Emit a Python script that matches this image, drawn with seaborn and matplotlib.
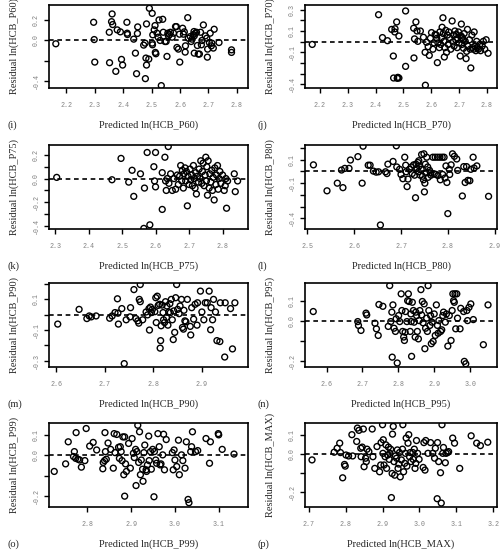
import numpy as np
import seaborn as sns
import matplotlib
matplotlib.use("Agg")
import matplotlib.pyplot as plt

# predicted values and residuals
pred_p60 = [2.163, 2.296, 2.298, 2.300, 2.352, 2.351, 2.361, 2.359, 2.363, 2.374, 2.379, 2.390, 2.394, 2.398,
            2.413, 2.414, 2.415, 2.437, 2.443, 2.447, 2.451, 2.450, 2.478, 2.482, 2.472, 2.477, 2.480, 2.482,
            2.490, 2.492, 2.502, 2.504, 2.502, 2.503, 2.509, 2.512, 2.513, 2.515, 2.519, 2.523, 2.526, 2.530,
            2.534, 2.539, 2.541, 2.547, 2.551, 2.554, 2.557, 2.559, 2.563, 2.566, 2.572, 2.577, 2.584, 2.587,
            2.589, 2.594, 2.598, 2.599, 2.609, 2.612, 2.615, 2.618, 2.619, 2.627, 2.629, 2.636, 2.639, 2.642,
            2.647, 2.649, 2.650, 2.654, 2.650, 2.658, 2.661, 2.664, 2.668, 2.672, 2.675, 2.677, 2.682, 2.689,
            2.694, 2.696, 2.697, 2.703, 2.706, 2.710, 2.712, 2.717, 2.720, 2.737, 2.781, 2.781]
res_p60 = [-0.035, 0.174, 0.006, -0.213, -0.219, 0.077, 0.255, 0.180, 0.152, -0.303, 0.100, 0.081, -0.187, -0.242,
           0.174, 0.068, 0.055, 0.010, -0.126, -0.326, 0.129, 0.065, -0.374, 0.158, -0.048, -0.029, -0.174, -0.242,
           -0.184, 0.310, 0.261, 0.052, -0.029, -0.045, 0.100, 0.142, -0.119, -0.132, 0.068, 0.029, 0.197, -0.003,
           -0.442, 0.203, 0.077, -0.013, -0.013, -0.158, 0.068, 0.042, 0.055, 0.077, 0.029, 0.068, 0.132, 0.132,
           -0.071, -0.087, 0.058, -0.213, 0.116, 0.058, 0.081, -0.116, -0.055, 0.219, 0.019, 0.035, -0.013, 0.010,
           0.055, 0.084, 0.042, 0.068, -0.126, 0.077, -0.052, -0.135, -0.135, 0.077, -0.045, -0.003, 0.148, 0.042,
           0.019, -0.165, -0.087, -0.023, 0.068, -0.055, -0.029, -0.077, 0.106, -0.023, -0.094, -0.119]

pred_p70 = [2.173, 2.411, 2.425, 2.443, 2.458, 2.470, 2.469, 2.476, 2.464, 2.484, 2.465, 2.478, 2.484, 2.480,
            2.508, 2.508, 2.537, 2.538, 2.540, 2.545, 2.549, 2.552, 2.561, 2.572, 2.578, 2.579, 2.583, 2.589,
            2.593, 2.597, 2.601, 2.606, 2.610, 2.614, 2.618, 2.622, 2.620, 2.624, 2.629, 2.631, 2.634, 2.637,
            2.639, 2.642, 2.643, 2.646, 2.647, 2.649, 2.652, 2.655, 2.658, 2.661, 2.663, 2.666, 2.670, 2.675,
            2.678, 2.680, 2.682, 2.685, 2.688, 2.690, 2.693, 2.695, 2.698, 2.700, 2.704, 2.706, 2.708, 2.710,
            2.712, 2.714, 2.716, 2.718, 2.722, 2.725, 2.727, 2.730, 2.731, 2.737, 2.740, 2.742, 2.746, 2.748,
            2.752, 2.754, 2.757, 2.760, 2.763, 2.766, 2.769, 2.774, 2.777, 2.783, 2.787, 2.792, 2.797, 2.804]
res_p70 = [-0.026, 0.253, 0.038, 0.009, 0.115, 0.121, 0.091, 0.185, -0.135, 0.053, -0.341, -0.344, -0.341, -0.335,
           0.288, -0.232, 0.126, -0.153, 0.026, 0.185, 0.100, 0.003, 0.100, 0.041, -0.100, -0.409, -0.006, -0.047,
           -0.129, 0.032, 0.085, -0.071, -0.012, 0.068, 0.062, -0.197, 0.032, -0.012, -0.056, 0.091, -0.026, 0.038,
           0.135, 0.224, 0.076, 0.003, -0.144, -0.056, 0.106, -0.100, 0.062, -0.026, 0.091, 0.038, -0.071, 0.194,
           -0.003, 0.062, -0.041, 0.100, 0.018, 0.068, -0.056, 0.032, 0.091, -0.012, -0.135, 0.056, 0.165, -0.026,
           0.038, 0.018, -0.062, 0.076, 0.003, -0.159, -0.091, 0.115, -0.041, 0.018, -0.071, -0.247, 0.062, -0.056,
           -0.071, 0.091, -0.041, -0.085, 0.003, -0.056, -0.071, -0.026, -0.085, -0.041, 0.003, -0.071, 0.018, -0.109]

pred_p75 = [2.305, 2.470, 2.497, 2.520, 2.530, 2.535, 2.555, 2.565, 2.567, 2.575, 2.583, 2.595, 2.597, 2.600,
            2.600, 2.620, 2.620, 2.628, 2.630, 2.632, 2.635, 2.638, 2.640, 2.645, 2.650, 2.655, 2.660, 2.665,
            2.668, 2.672, 2.675, 2.678, 2.680, 2.683, 2.685, 2.688, 2.690, 2.692, 2.695, 2.697, 2.700, 2.703,
            2.705, 2.708, 2.710, 2.713, 2.715, 2.718, 2.720, 2.722, 2.725, 2.728, 2.730, 2.733, 2.735, 2.738,
            2.740, 2.742, 2.745, 2.748, 2.750, 2.752, 2.753, 2.755, 2.757, 2.760, 2.762, 2.765, 2.768, 2.770,
            2.772, 2.775, 2.777, 2.780, 2.782, 2.785, 2.787, 2.790, 2.792, 2.795, 2.800, 2.805, 2.808, 2.810,
            2.812, 2.815, 2.835, 2.838, 2.845]
res_p75 = [0.010, -0.010, 0.170, -0.030, 0.070, -0.150, 0.040, -0.420, -0.080, 0.220, -0.390, 0.100, -0.020, 0.220,
           -0.070, 0.050, -0.260, 0.180, -0.020, -0.100, 0.000, 0.270, -0.040, 0.040, -0.100, 0.000, -0.090, 0.030,
           -0.050, 0.020, 0.110, -0.020, 0.070, -0.080, 0.040, 0.090, -0.020, 0.060, -0.230, 0.020, -0.050, 0.080,
           -0.010, 0.030, -0.060, 0.110, 0.000, -0.080, 0.050, -0.130, 0.020, -0.030, 0.080, 0.000, 0.150, -0.040,
           0.060, 0.130, -0.060, 0.030, 0.180, -0.020, 0.100, -0.140, 0.150, -0.080, 0.040, -0.030, 0.070, -0.100,
           0.010, -0.180, 0.090, -0.050, 0.030, 0.110, -0.090, 0.000, 0.060, -0.040, 0.030, -0.100, -0.060, 0.000,
           -0.250, -0.020, 0.040, -0.110, -0.020]

pred_p80 = [2.513, 2.542, 2.564, 2.573, 2.576, 2.580, 2.589, 2.592, 2.608, 2.617, 2.619, 2.630, 2.634, 2.641,
            2.647, 2.652, 2.656, 2.667, 2.670, 2.672, 2.683, 2.690, 2.691, 2.697, 2.700, 2.704, 2.708, 2.710,
            2.711, 2.713, 2.715, 2.718, 2.722, 2.724, 2.727, 2.729, 2.731, 2.732, 2.734, 2.736, 2.737, 2.738,
            2.739, 2.741, 2.743, 2.744, 2.746, 2.748, 2.749, 2.750, 2.751, 2.752, 2.754, 2.755, 2.757, 2.758,
            2.761, 2.763, 2.764, 2.768, 2.771, 2.773, 2.775, 2.778, 2.779, 2.783, 2.784, 2.788, 2.789, 2.792,
            2.794, 2.796, 2.798, 2.800, 2.803, 2.804, 2.807, 2.810, 2.814, 2.819, 2.821, 2.831, 2.834, 2.837,
            2.840, 2.843, 2.847, 2.849, 2.854, 2.856, 2.862, 2.887]
res_p80 = [0.056, -0.165, -0.100, 0.012, -0.138, 0.026, 0.026, 0.097, 0.126, -0.100, 0.215, 0.053, 0.053, 0.003,
           -0.006, -0.003, -0.456, -0.003, -0.018, 0.062, 0.085, 0.218, 0.038, 0.018, -0.026, -0.062, 0.121, 0.053,
           -0.003, -0.129, -0.065, 0.018, 0.038, -0.018, 0.056, -0.032, -0.224, 0.062, 0.026, 0.076, -0.003, 0.091,
           0.047, -0.032, 0.018, 0.144, -0.041, -0.071, 0.150, -0.174, -0.100, 0.062, -0.012, 0.121, 0.038, -0.050,
           0.009, -0.012, -0.032, 0.121, -0.021, 0.121, -0.026, 0.121, -0.035, 0.121, -0.071, 0.121, -0.026, 0.121,
           -0.056, 0.047, -0.094, -0.359, 0.018, -0.026, 0.056, 0.150, 0.129, 0.106, 0.009, -0.209, 0.041, -0.094,
           0.041, -0.076, -0.079, 0.018, 0.121, 0.029, 0.047, -0.212]

pred_p90 = [2.603, 2.647, 2.663, 2.668, 2.672, 2.682, 2.710, 2.715, 2.721, 2.726, 2.727, 2.728, 2.735, 2.740,
            2.744, 2.752, 2.753, 2.760, 2.764, 2.768, 2.770, 2.771, 2.773, 2.773, 2.778, 2.785, 2.788, 2.791,
            2.792, 2.794, 2.796, 2.798, 2.803, 2.805, 2.806, 2.808, 2.810, 2.813, 2.814, 2.815, 2.816, 2.818,
            2.820, 2.821, 2.823, 2.825, 2.827, 2.828, 2.830, 2.832, 2.834, 2.835, 2.837, 2.839, 2.841, 2.842,
            2.844, 2.846, 2.848, 2.850, 2.853, 2.855, 2.858, 2.860, 2.862, 2.863, 2.865, 2.867, 2.870, 2.876,
            2.877, 2.879, 2.883, 2.886, 2.890, 2.891, 2.897, 2.900, 2.904, 2.907, 2.911, 2.915, 2.918, 2.919,
            2.922, 2.924, 2.928, 2.931, 2.937, 2.938, 2.948, 2.947, 2.959, 2.963, 2.968]
res_p90 = [-0.062, 0.034, -0.026, -0.009, -0.015, -0.009, -0.024, -0.009, 0.013, 0.103, 0.009, -0.062, 0.039, -0.320,
           -0.034, -0.015, 0.045, 0.163, -0.026, -0.041, -0.056, 0.099, 0.196, 0.084, -0.034, 0.017, -0.002, 0.039,
           -0.101, 0.049, 0.013, 0.034, 0.019, 0.110, -0.052, 0.120, 0.060, 0.067, -0.219, -0.170, -0.073, 0.062,
           0.013, -0.034, -0.052, 0.084, -0.019, 0.056, -0.069, 0.017, 0.071, 0.013, 0.099, -0.034, -0.163, 0.024,
           -0.116, 0.110, 0.196, 0.034, 0.006, 0.056, 0.099, -0.084, -0.095, 0.028, -0.041, -0.047, 0.099, -0.077,
           -0.133, 0.045, -0.030, 0.067, -0.069, 0.077, 0.153, 0.017, -0.034, 0.077, 0.077, 0.153, -0.099, 0.045,
           -0.034, 0.099, 0.017, -0.170, -0.176, 0.077, 0.077, -0.277, 0.039, -0.224, 0.077]

pred_p95 = [2.563, 2.687, 2.689, 2.696, 2.710, 2.712, 2.735, 2.739, 2.744, 2.746, 2.757, 2.772, 2.776, 2.779,
            2.782, 2.783, 2.785, 2.788, 2.792, 2.794, 2.797, 2.801, 2.804, 2.808, 2.810, 2.812, 2.815, 2.817,
            2.819, 2.820, 2.824, 2.826, 2.828, 2.830, 2.833, 2.835, 2.836, 2.837, 2.839, 2.842, 2.844, 2.847,
            2.849, 2.851, 2.853, 2.856, 2.858, 2.860, 2.863, 2.865, 2.867, 2.869, 2.872, 2.874, 2.876, 2.879,
            2.881, 2.883, 2.885, 2.888, 2.890, 2.892, 2.894, 2.897, 2.900, 2.903, 2.906, 2.909, 2.911, 2.913,
            2.918, 2.921, 2.924, 2.926, 2.931, 2.934, 2.938, 2.942, 2.947, 2.950, 2.952, 2.954, 2.956, 2.958,
            2.960, 2.963, 2.965, 2.972, 2.974, 2.982, 2.984, 2.988, 2.991, 2.993, 2.997, 3.002, 3.009, 3.037,
            3.050]
res_p95 = [0.048, -0.002, -0.021, -0.046, 0.040, 0.031, -0.010, -0.038, -0.071, 0.083, 0.074, -0.026, 0.177, -0.002,
           0.045, -0.179, 0.081, -0.035, -0.051, 0.012, -0.208, 0.028, -0.002, 0.136, 0.053, -0.051, -0.079, -0.096,
           -0.055, 0.048, -0.002, 0.102, 0.136, 0.098, -0.051, 0.036, -0.002, -0.175, 0.094, 0.053, -0.005, -0.079,
           0.045, 0.028, -0.051, -0.088, 0.003, 0.053, 0.157, 0.031, 0.098, -0.008, 0.086, -0.137, -0.035, 0.015,
           -0.051, 0.177, 0.053, -0.021, 0.028, -0.112, -0.005, -0.101, 0.036, -0.071, 0.081, -0.021, -0.060, 0.003,
           -0.051, -0.043, 0.028, 0.045, -0.005, 0.036, -0.124, 0.028, -0.096, 0.053, 0.136, 0.102, 0.094, 0.136,
           -0.038, 0.136, 0.015, -0.038, 0.064, 0.048, -0.200, -0.212, 0.053, 0.003, 0.069, 0.086, 0.008, -0.117,
           0.081]

pred_p99 = [2.724, 2.750, 2.756, 2.768, 2.770, 2.773, 2.774, 2.778, 2.782, 2.786, 2.794, 2.797, 2.805, 2.813,
            2.821, 2.835, 2.836, 2.839, 2.840, 2.841, 2.843, 2.847, 2.853, 2.859, 2.861, 2.863, 2.867, 2.871,
            2.873, 2.875, 2.877, 2.879, 2.881, 2.883, 2.885, 2.885, 2.887, 2.889, 2.894, 2.898, 2.902, 2.905,
            2.907, 2.910, 2.911, 2.913, 2.915, 2.917, 2.919, 2.921, 2.923, 2.926, 2.927, 2.929, 2.931, 2.934,
            2.935, 2.937, 2.940, 2.941, 2.944, 2.946, 2.949, 2.952, 2.953, 2.956, 2.958, 2.961, 2.964, 2.966,
            2.968, 2.972, 2.974, 2.976, 2.980, 2.994, 2.996, 2.998, 3.000, 3.004, 3.008, 3.010, 3.015, 3.018,
            3.023, 3.026, 3.030, 3.032, 3.036, 3.038, 3.040, 3.047, 3.052, 3.071, 3.079, 3.081, 3.099, 3.100,
            3.108, 3.135]
res_p99 = [-0.079, -0.042, 0.066, -0.006, 0.018, -0.015, 0.111, -0.019, -0.023, -0.058, -0.026, 0.131, 0.045, 0.063,
           0.026, -0.066, -0.035, -0.026, 0.111, 0.018, -0.019, 0.060, 0.029, -0.063, 0.106, 0.013, 0.102, 0.039,
           -0.015, 0.042, 0.018, -0.026, 0.090, -0.095, -0.200, 0.090, -0.042, -0.079, 0.058, -0.063, 0.082, 0.010,
           -0.011, 0.029, -0.148, 0.018, 0.147, -0.035, 0.115, -0.095, -0.023, -0.068, -0.127, 0.013, 0.050, -0.071,
           -0.079, -0.047, 0.094, -0.026, 0.018, -0.068, 0.029, -0.203, 0.018, -0.023, -0.039, 0.106, 0.042, -0.047,
           -0.042, 0.002, 0.103, -0.071, 0.077, 0.013, -0.071, 0.026, -0.023, -0.055, 0.074, -0.095, 0.002, -0.026,
           -0.063, 0.066, -0.216, -0.232, 0.018, 0.042, 0.115, 0.018, 0.023, 0.082, -0.039, 0.066, 0.106, 0.100,
           0.029, 0.006]

pred_max = [2.709, 2.769, 2.777, 2.784, 2.786, 2.792, 2.797, 2.799, 2.801, 2.808, 2.817, 2.819, 2.830, 2.832,
            2.836, 2.841, 2.842, 2.845, 2.848, 2.850, 2.854, 2.856, 2.858, 2.863, 2.872, 2.874, 2.879, 2.885,
            2.892, 2.895, 2.896, 2.900, 2.901, 2.902, 2.904, 2.907, 2.909, 2.911, 2.914, 2.916, 2.918, 2.920,
            2.922, 2.924, 2.926, 2.927, 2.929, 2.931, 2.933, 2.935, 2.938, 2.940, 2.942, 2.944, 2.946, 2.948,
            2.951, 2.954, 2.955, 2.957, 2.960, 2.962, 2.964, 2.966, 2.969, 2.971, 2.973, 2.975, 2.977, 2.982,
            2.983, 2.986, 2.988, 2.990, 2.992, 2.995, 2.999, 3.010, 3.012, 3.015, 3.017, 3.023, 3.030, 3.036,
            3.041, 3.043, 3.048, 3.049, 3.052, 3.057, 3.059, 3.061, 3.063, 3.065, 3.070, 3.072, 3.076, 3.079,
            3.109, 3.090, 3.095, 3.140, 3.155, 3.165, 3.185]
res_max = [-0.030, 0.011, 0.032, 0.059, 0.009, -0.125, -0.054, -0.063, -0.004, -0.009, 0.104, -0.009, 0.068, 0.139,
           0.127, 0.032, -0.013, 0.038, 0.134, -0.066, -0.021, -0.039, 0.027, 0.014, 0.134, -0.013, -0.075, 0.041,
           -0.093, -0.057, 0.062, 0.157, 0.005, 0.077, -0.057, -0.013, 0.050, -0.075, -0.004, 0.038, -0.027, 0.005,
           0.027, -0.230, -0.102, 0.107, 0.148, -0.039, -0.111, -0.009, -0.021, 0.023, -0.075, -0.052, 0.009, -0.120,
           -0.030, 0.027, 0.157, -0.093, -0.048, 0.005, 0.086, -0.063, 0.059, 0.104, -0.013, 0.009, -0.039, 0.009,
           -0.027, 0.027, -0.075, -0.048, 0.073, 0.005, -0.027, -0.070, 0.062, -0.084, 0.073, 0.005, 0.062, 0.005,
           -0.021, 0.032, -0.236, 0.062, -0.039, -0.098, -0.259, 0.157, 0.005, 0.036, -0.045, 0.005, 0.009, 0.014,
           -0.075, 0.086, 0.059, 0.098, 0.059, 0.046, 0.064]

names = ["P60", "P70", "P75", "P80", "P90", "P95", "P99", "MAX"]
letters = ["(i)", "(j)", "(k)", "(l)", "(m)", "(n)", "(o)", "(p)"]
preds = [pred_p60, pred_p70, pred_p75, pred_p80, pred_p90, pred_p95, pred_p99, pred_max]
resids = [res_p60, res_p70, res_p75, res_p80, res_p90, res_p95, res_p99, res_max]

x_ticks = [[2.2, 2.3, 2.4, 2.5, 2.6, 2.7, 2.8], [2.2, 2.3, 2.4, 2.5, 2.6, 2.7, 2.8],
           [2.3, 2.4, 2.5, 2.6, 2.7, 2.8], [2.5, 2.6, 2.7, 2.8, 2.9],
           [2.6, 2.7, 2.8, 2.9], [2.6, 2.7, 2.8, 2.9, 3.0],
           [2.8, 2.9, 3.0, 3.1], [2.7, 2.8, 2.9, 3.0, 3.1, 3.2]]
y_ticks = [[-0.4, -0.2, 0.0, 0.2], [-0.4, -0.3, -0.2, -0.1, 0.0, 0.1, 0.2, 0.3],
           [-0.4, -0.3, -0.2, -0.1, 0.0, 0.1, 0.2], [-0.4, -0.3, -0.2, -0.1, 0.0, 0.1, 0.2],
           [-0.3, -0.2, -0.1, 0.0, 0.1, 0.2], [-0.2, -0.1, 0.0, 0.1],
           [-0.2, -0.1, 0.0, 0.1], [-0.2, -0.1, 0.0, 0.1]]
y_labels = [["-0.4", "", "0.0", "0.2"], ["-0.4", "", "", "-0.1", "", "0.1", "", "0.3"],
            ["-0.4", "", "-0.2", "", "0.0", "", "0.2"], ["-0.4", "", "", "-0.1", "", "0.1", ""],
            ["-0.3", "", "-0.1", "", "0.1", ""], ["-0.2", "", "0.0", "0.1"],
            ["-0.2", "", "0.0", "0.1"], ["-0.2", "", "0.0", "0.1"]]
x_lims = [(2.139, 2.839), (2.147, 2.836), (2.282, 2.876), (2.495, 2.905),
          (2.585, 2.995), (2.54, 3.075), (2.712, 3.167), (2.69, 3.21)]
y_lims = [(-0.465, 0.342), (-0.435, 0.344), (-0.425, 0.283), (-0.49, 0.225),
          (-0.342, 0.206), (-0.228, 0.19), (-0.253, 0.158), (-0.28, 0.166)]

sns.set_style("ticks")
plt.rcParams['font.family'] = ['Liberation Serif', 'DejaVu Serif']

W, H = 504, 550
fig = plt.figure(figsize=(W / 100, H / 100), dpi=100)

col_left = [49, 305]
col_right = [248, 497]
row_top = [5, 145, 283, 423]
row_bot = [88, 229, 367, 507]

for i in range(8):
    r, c = i // 2, i % 2
    l, rgt = col_left[c], col_right[c]
    t, b = row_top[r], row_bot[r]
    ax = fig.add_axes([l / W, 1 - b / H, (rgt - l) / W, (b - t) / H])

    sns.scatterplot(x=np.array(preds[i]), y=np.array(resids[i]), ax=ax, s=18,
                    facecolor="none", edgecolor="black", linewidth=1.0, marker="o")
    ax.axhline(0, color="black", linestyle=(0, (2.8, 2.2)), linewidth=1.2)

    ax.set_xlim(*x_lims[i])
    ax.set_ylim(*y_lims[i])
    ax.set_xticks(x_ticks[i])
    ax.set_xticklabels(["%.1f" % v for v in x_ticks[i]])
    ax.set_yticks(y_ticks[i])
    ax.set_yticklabels(y_labels[i], rotation=90, va="center")
    ax.tick_params(axis="both", direction="out", length=3.5, width=1, color="black",
                   labelsize=4.8, labelcolor="#808080")
    ax.tick_params(axis="x", pad=6.5)
    ax.tick_params(axis="y", pad=3)
    for lab in ax.get_xticklabels() + ax.get_yticklabels():
        lab.set_family("Liberation Mono")
    for sp in ax.spines.values():
        sp.set_visible(True)
        sp.set_linewidth(1.2)
        sp.set_color("black")
    ax.set_xlabel("")
    ax.set_ylabel("")

    fig.text((l + rgt) / 2 / W, 1 - (b + 37) / H, "Predicted ln(HCB_%s)" % names[i],
             ha="center", va="center", fontsize=7.5)
    fig.text((l - 35) / W, 1 - (t + b) / 2 / H, "Residual ln(HCB_%s)" % names[i],
             ha="center", va="center", rotation=90, fontsize=7.5)
    fig.text((8 if c == 0 else 258) / W, 1 - (b + 37) / H, letters[i],
             ha="left", va="center", fontsize=7.5)

fig.savefig("out.png", dpi=100)
